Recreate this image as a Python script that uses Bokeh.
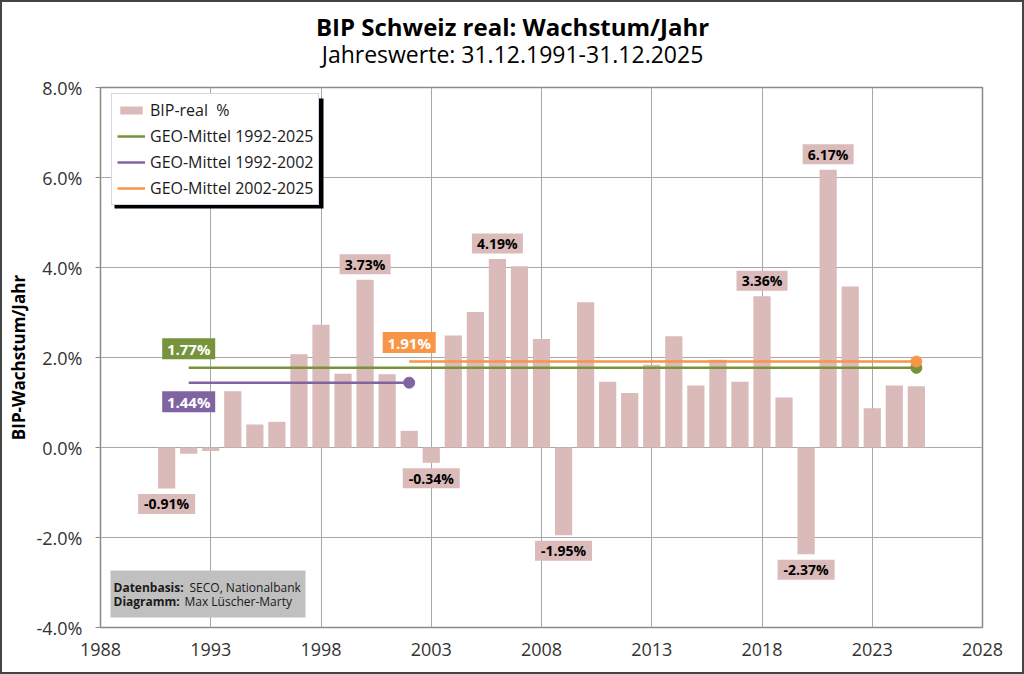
from bokeh.plotting import figure
from bokeh.layouts import column
from bokeh.models import (Range1d, FixedTicker, Legend, LegendItem,
                          ColumnDataSource, CustomJSTickFormatter)
from bokeh.embed import file_html
from bokeh.resources import INLINE
from bokeh.core.properties import value

# ---------------- data ----------------
years = list(range(1991, 2026))
growth = [-0.91, -0.14, -0.08, 1.25, 0.51, 0.57, 2.07, 2.73, 1.64, 3.73,
          1.63, 0.37, -0.34, 2.49, 3.01, 4.19, 4.03, 2.41, -1.95, 3.23,
          1.46, 1.21, 1.84, 2.47, 1.38, 1.95, 1.46, 3.36, 1.11, -2.37,
          6.17, 3.58, 0.87, 1.38, 1.36]
label_years = [1991, 2000, 2003, 2006, 2009, 2018, 2020, 2021]

mean_names = ["GEO-Mittel 1992-2025", "GEO-Mittel 1992-2002", "GEO-Mittel 2002-2025"]
mean_start = [1992, 1992, 2002]
mean_end = [2025, 2002, 2025]
mean_value = [1.77, 1.44, 1.91]
mean_side = [1, -1, 1]

x_ticks = [1988, 1993, 1998, 2003, 2008, 2013, 2018, 2023, 2028]
y_ticks = [-4, -2, 0, 2, 4, 6, 8]

title_text = "BIP Schweiz real: Wachstum/Jahr"
subtitle_text = "Jahreswerte: 31.12.1991-31.12.2025"
y_label = "BIP-Wachstum/Jahr"
bar_name = "BIP-real  %"
credit_bold = ["Datenbasis:", "Diagramm:"]
credit_text = ["SECO, Nationalbank", "Max Lüscher-Marty"]

# ---------------- style ----------------
FONT = "Open Sans"
BAR = "#dbbaba"
mean_colors = ["#77933c", "#8064a2", "#f79646"]
X0, X1 = 1988, 2028
Y0, Y1 = -4, 8
W, H = 1024, 674
HEAD = 68
FW, FH = 882, 540
FL, FT = 100, 87          # frame left/top in page pixels
PX = FW / (X1 - X0)
PY = FH / (Y1 - Y0)


def px2x(px):
    return X0 + (px - FL) / PX


def py2y(py):
    return Y1 - (py - FT) / PY


# ---------------- header (titles) ----------------
head = figure(frame_width=FW, frame_height=HEAD,
              min_border_left=FL, min_border_right=W - FL - FW,
              min_border_top=0, min_border_bottom=0,
              x_range=Range1d(FL, FL + FW), y_range=Range1d(HEAD, 0),
              x_axis_type=None, y_axis_type=None,
              output_backend="svg", toolbar_location=None,
              background_fill_color="white", border_fill_color="white")
head.title = None
head.grid.visible = False
head.outline_line_color = None
head.text(x=[512], y=[25.5], text=[title_text], text_align="center",
          text_baseline="middle", text_font=value(FONT), text_font_style="bold",
          text_font_size="24px", text_color="black")
head.text(x=[512], y=[53], text=[subtitle_text], text_align="center",
          text_baseline="middle", text_font=value(FONT),
          text_font_size="23px", text_color="black")

# ---------------- main plot ----------------
p = figure(x_range=Range1d(X0, X1), y_range=Range1d(Y0, Y1),
           frame_width=FW, frame_height=FH,
           min_border_left=FL, min_border_right=W - FL - FW,
           min_border_top=FT - HEAD, min_border_bottom=H - FT - FH,
           output_backend="svg", toolbar_location=None,
           background_fill_color="white", border_fill_color="white")
p.title = None

p.outline_line_color = "#8a8a8a"
p.outline_line_width = 1.5
p.grid.grid_line_color = "#a8a8a8"
p.grid.grid_line_width = 1
p.xgrid.ticker = FixedTicker(ticks=x_ticks)
p.ygrid.ticker = FixedTicker(ticks=y_ticks)

p.xaxis.ticker = FixedTicker(ticks=x_ticks)
p.yaxis.ticker = FixedTicker(ticks=y_ticks)
p.yaxis.formatter = CustomJSTickFormatter(code="return tick.toFixed(1) + '%';")
for ax in (p.xaxis, p.yaxis):
    ax.axis_line_color = None
    ax.minor_tick_line_color = None
    ax.major_label_text_font = FONT
    ax.major_label_text_font_size = "18px"
    ax.major_label_text_color = "#333333"
p.xaxis.major_tick_line_color = None
p.xaxis.major_tick_out = 0
p.xaxis.major_label_standoff = 15
p.yaxis.major_tick_line_color = "#8a8a8a"
p.yaxis.major_tick_out = 5
p.yaxis.major_tick_in = 0
p.yaxis.major_label_standoff = 13
p.yaxis.axis_label = y_label
p.yaxis.axis_label_text_font = FONT
p.yaxis.axis_label_text_font_style = "bold"
p.yaxis.axis_label_text_font_size = "17px"
p.yaxis.axis_label_text_color = "black"
p.yaxis.axis_label_standoff = 4

# bars
src = ColumnDataSource(dict(year=years, growth=growth))
bars = p.vbar(x="year", top="growth", bottom=0, width=0.78, source=src,
              fill_color=BAR, line_color=None)

# data labels
lx, lv = [], []
for yr, g in zip(years, growth):
    if yr in label_years:
        lx.append(yr)
        lv.append(g)
off = 15.5 / PY
ly = [v + off if v > 0 else v - off for v in lv]
ltext = [f"{v:.2f}%" for v in lv]
lw = [6 * len(t) + 21 for t in ltext]
p.rect(x=lx, y=ly, width=lw, height=20, width_units="screen", height_units="screen",
       fill_color=BAR, line_color=None)
p.text(x=lx, y=ly, text=ltext, text_align="center", text_baseline="middle",
       text_font=value(FONT), text_font_style="bold", text_font_size="14px",
       text_color="black")

# mean lines
items = [LegendItem(label=bar_name, renderers=[bars])]
for name, s, e, v, c, side in zip(mean_names, mean_start, mean_end, mean_value,
                                  mean_colors, mean_side):
    r = p.line(x=[s, e], y=[v, v], line_color=c, line_width=2.5)
    items.append(LegendItem(label=name, renderers=[r]))
    p.scatter(x=[e], y=[v], size=11, fill_color=c, line_color=c)
    by = v + side * 19 / PY
    p.rect(x=[s], y=[by], width=53, height=21, width_units="screen",
           height_units="screen", fill_color=c, line_color=None)
    p.text(x=[s], y=[by], text=[f"{v:.2f}%"], text_align="center",
           text_baseline="middle", text_font=value(FONT), text_font_style="bold",
           text_font_size="15px", text_color="white")

# legend shadow
p.quad(left=px2x(114), right=px2x(323), top=py2y(98), bottom=py2y(208),
       fill_color="black", line_color=None)

legend = Legend(items=items, location=(11, 422), margin=0, padding=5,
                spacing=4, label_height=20, glyph_width=28, glyph_height=10,
                label_standoff=5, label_text_font=FONT, label_text_font_size="16px",
                label_text_color="#1a1a1a",
                border_line_color="#a3b4d4", border_line_width=1,
                background_fill_color="white", background_fill_alpha=1)
p.add_layout(legend)

# credit box
p.quad(left=px2x(110), right=px2x(305), top=py2y(570), bottom=py2y(617),
       fill_color="#c0c0c0", line_color=None)
p.text(x=[px2x(113), px2x(113)], y=[py2y(587), py2y(601)],
       text=credit_bold, text_align="left", text_baseline="middle",
       text_font=value(FONT), text_font_style="bold", text_font_size="12px",
       text_color="#1a1a1a")
p.text(x=[px2x(113 + 76), px2x(113 + 71)], y=[py2y(587), py2y(601)],
       text=credit_text, text_align="left",
       text_baseline="middle", text_font=value(FONT), text_font_size="12px",
       text_color="#1a1a1a")

head.styles = {"z-index": "-1"}
p.styles = {"z-index": "-1"}
layout = column(head, p, spacing=0, width=W, height=H)
layout.styles = {"position": "relative", "z-index": "0",
                 "outline": "2px solid #444444", "outline-offset": "-2px"}

open("out.html", "w").write(file_html(layout, INLINE))
